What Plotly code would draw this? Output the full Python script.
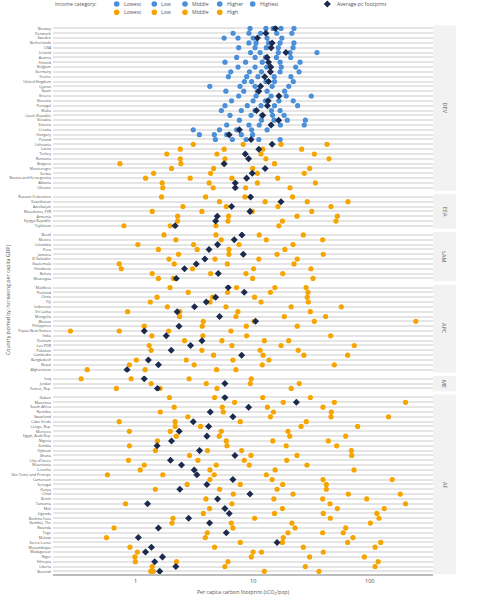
import math
import plotly.graph_objects as go

# ---------------- data (tCO2 per capita) ----------------
blue_labels = ["Lowest", "Low", "Middle", "Higher", "Highest"]
orange_labels = ["Lowest", "Low", "Middle", "High"]

dev_countries = ["Norway", "Denmark", "Sweden", "Netherlands", "USA", "Ireland", "Austria", "Finland",
                 "Belgium", "Germany", "France", "United Kingdom", "Cyprus", "Spain", "Greece", "Slovenia",
                 "Portugal", "Malta", "Czech Republic", "Slovakia", "Estonia", "Croatia", "Hungary", "Poland",
                 "Lithuania", "Latvia", "Turkey", "Romania", "Bulgaria", "Montenegro", "Serbia",
                 "Bosnia and Herzegovina", "Albania", "Ukraine"]
dev_avg = [15.7, 13.0, 11.0, 14.7, 14.4, 19.3, 13.3, 13.7, 14.3, 14.2, 12.7, 13.7, 11.7, 11.3, 16.8, 13.6,
           13.4, 10.8, 12.2, 16.7, 14.4, 7.7, 6.3, 9.7,
           14.7, 11.3, 8.65, 9.24, 5.7, 12.8, 9.93, 8.89, 7.1, 7.1]
dev_blue = [[9.5, 13.0, 15.0, 17.5, 22.6], [6.8, 9.3, 11.7, 16.1, 21.7], [5.7, 7.5, 10.1, 13.3, 17.8],
            [9.3, 10.7, 13.7, 17.2, 22.6], [7.6, 10.5, 13.1, 16.6, 22.2], [9.6, 11.6, 16.6, 20.9, 35.6],
            [7.3, 10.5, 12.9, 16.0, 21.2], [5.8, 8.7, 12.1, 17.2, 25.5], [7.5, 10.5, 13.2, 17.6, 23.4],
            [6.5, 9.4, 11.9, 17.2, 25.0], [6.2, 8.9, 11.1, 15.3, 21.3], [8.5, 9.8, 13.0, 15.4, 22.3],
            [4.3, 7.8, 10.5, 14.7, 20.4], [5.9, 8.4, 11.0, 13.3, 18.8], [7.6, 10.7, 14.4, 19.4, 31.8],
            [6.6, 10.1, 12.9, 16.8, 22.3], [5.8, 9.0, 11.8, 15.4, 24.3], [5.4, 8.0, 10.5, 14.5, 17.2],
            [6.4, 9.7, 12.0, 14.8, 18.6], [7.7, 11.9, 15.3, 19.8, 28.3], [6.0, 9.3, 11.4, 17.3, 27.7],
            [3.1, 5.2, 7.3, 9.8, 13.3], [3.5, 4.7, 6.0, 8.0, 10.0], [4.8, 6.7, 8.8, 11.3, 17.2]]
dev_orange = [[3.1, 8.3, 17.5, 43.4], [2.4, 5.7, 12.2, 26.3], [1.84, 4.95, 11.8, 33.8], [2.4, 5.8, 13.0, 45.1],
              [0.73, 2.43, 5.7, 15.4], [2.02, 4.63, 10.0, 30.8], [1.42, 4.37, 11.0, 27.7],
              [1.21, 2.92, 6.65, 16.4], [1.68, 4.25, 11.0, 34.5], [1.70, 4.60, 8.71, 20.9]]

eea_countries = ["Russian Federation", "Kazakhstan", "Azerbaijan", "Macedonia, FYR", "Armenia",
                 "Kyrgyz Republic", "Tajikistan"]
eea_avg = [9.6, 17.5, 6.6, 9.5, 4.98, 4.82, 2.17]
eea_orange = [[1.66, 3.96, 8.6, 22.0], [5.2, 12.8, 29.4, 65.6], [2.53, 5.95, 16.5, 46.9],
              [1.38, 3.68, 9.93, 32.1], [2.28, 6.23, 24.0, 53.2], [2.28, 6.15, 18.0, 51.8],
              [0.79, 1.97, 4.85, 16.8]]

lam_countries = ["Brazil", "Mexico", "Colombia", "Peru", "Jamaica", "El Salvador", "Guatemala", "Honduras",
                 "Bolivia", "Nicaragua"]
lam_avg = [8.1, 6.96, 5.01, 4.23, 8.32, 3.90, 3.29, 2.61, 5.08, 2.22]
lam_orange = [[1.74, 4.85, 11.4, 27.2], [2.2, 5.39, 13.1, 39.8], [1.04, 3.12, 7.64, 22.2],
              [1.56, 3.35, 6.27, 18.9], [2.32, 6.27, 16.2, 40.3], [1.92, 4.76, 11.3, 24.1],
              [0.72, 2.13, 6.07, 22.6], [0.75, 3.06, 10.2, 31.6], [1.38, 4.37, 8.77, 18.1],
              [1.56, 2.1, 10.0, 32.9]]

apc_countries = ["Maldives", "Thailand", "China", "Fiji", "Indonesia", "Sri Lanka", "Mongolia", "Bhutan",
                 "Philippines", "Papua New Guinea", "India", "Vietnam", "Lao PDR", "Pakistan", "Cambodia",
                 "Bangladesh", "Nepal", "Afghanistan"]
apc_avg = [6.18, 8.48, 4.82, 4.01, 3.18, 2.26, 5.21, 10.6, 2.34, 1.18, 1.82, 3.68, 2.94, 2.01, 8.05, 1.28,
           1.56, 0.84]
apc_orange = [[1.96, 7.29, 15.5, 28.7], [2.81, 6.11, 14.2, 29.8], [1.52, 4.54, 10.4, 29.4],
              [1.33, 4.31, 11.8, 30.0], [1.86, 5.91, 21.4, 57.5], [0.85, 2.38, 7.48, 31.2],
              [2.37, 7.20, 18.7, 42.2], [3.78, 10.3, 33.8, 250], [1.18, 3.70, 8.82, 24.1],
              [0.275, 0.72, 1.91, 6.52], [1.37, 3.75, 8.89, 46.6], [2.61, 5.46, 12.6, 20.4],
              [1.30, 6.65, 17.5, 74.3], [1.35, 3.68, 11.6, 24.6], [4.63, 12.3, 27.5, 65.2],
              [1.01, 2.70, 6.78, 13.8], [0.88, 3.16, 12.1, 50.1], [0.383, 1.20, 4.91, 7.20]]

me_countries = ["Iraq", "Jordan", "Yemen, Rep."]
me_avg = [1.18, 5.79, 1.53]
me_orange = [[0.34, 0.91, 2.86, 9.74], [1.35, 4.01, 9.55, 25.1], [0.68, 1.61, 4.95, 21.4]]

af_countries = ["Gabon", "Mauritius", "South Africa", "Namibia", "Swaziland", "Cabo Verde", "Congo, Rep.",
                "Morocco", "Egypt, Arab Rep.", "Nigeria", "Zambia", "Djibouti", "Ghana", "Côte d'Ivoire",
                "Mauritania", "Lesotho", "São Tomé and Principe", "Cameroon", "Senegal", "Kenya", "Chad",
                "Benin", "Tanzania", "Mali", "Uganda", "Burkina Faso", "Gambia, The", "Rwanda", "Togo",
                "Malawi", "Sierra Leone", "Mozambique", "Madagascar", "Niger", "Ethiopia", "Liberia",
                "Burundi"]
af_avg = [5.79, 23.7, 9.24, 4.34, 6.78, 3.10, 4.20, 2.35, 4.06, 2.02, 1.52, 3.51, 7.06, 1.98, 2.46, 3.16,
          3.33, 6.78, 4.06, 2.38, 9.49, 5.01, 1.26, 5.79, 6.31, 2.83, 4.28, 1.56, 5.95, 1.05, 16.2, 1.36,
          1.21, 1.69, 1.45, 2.20, 1.60]
af_orange = [[1.94, 4.72, 12.2, 31.2], [7.01, 18.3, 50.1, 204], [2.13, 5.50, 13.4, 40.1],
             [1.62, 5.61, 15.1, 47.2], [2.79, 14.2, 46.9, 146], [0.72, 2.17, 7.84, 28.8],
             [2.17, 3.58, 26.0, 79.4], [0.88, 1.97, 5.39, 20.1], [2.22, 5.18, 20.8, 62.7],
             [1.53, 5.95, 14.9, 44.5], [0.88, 6.03, 19.4, 52.5], [1.47, 4.11, 8.05, 70.1],
             [2.88, 9.68, 24.0, 70.6], [0.865, 3.40, 8.48, 19.6], [1.18, 4.88, 9.36, 29.2],
             [1.09, 4.31, 15.6, 73.9], [0.57, 1.70, 4.69, 13.1], [4.31, 14.7, 40.1, 157],
             [2.75, 7.84, 18.1, 42.8], [1.47, 5.21, 16.2, 42.8], [6.83, 22.2, 66.1, 184],
             [3.98, 15.2, 39.8, 94.9], [0.815, 6.65, 46.0, 204], [4.28, 18.0, 53.2, 134],
             [3.78, 15.4, 40.3, 116], [2.08, 10.4, 46.3, 121], [2.04, 6.56, 21.7, 102],
             [0.65, 6.78, 23.1, 62.7], [4.09, 20.1, 39.8, 59.8], [0.56, 3.93, 18.3, 72.4],
             [7.84, 18.0, 65.2, 125], [0.89, 4.72, 27.2, 112], [1.03, 10.1, 11.9, 40.3],
             [0.98, 9.74, 30.8, 90.6], [0.99, 2.23, 6.15, 119], [1.38, 5.79, 28.3, 112],
             [1.34, 1.41, 12.6, 37.0]]

outlier_country = ["Bosnia and Herzegovina"]
outlier_value = [920]

x_ticks = [1, 10, 100]

# ---------------- style ----------------
W, H = 485, 599
FONT = "Open Sans"
BLUE = "#4a8fd7"
ORANGE = "#f6a500"
NAVY = "#1c2a4e"
TXT = "#555555"
XMIN, XMAX = 0.195, 351.0
PX_L, PX_R, STRIP_R = 53, 433, 456
UNIT, GAP, TOP = 4.83, 3.3, 25.5

panels = [
    ("DEV", dev_countries, dev_avg, dev_blue, dev_orange),
    ("EEA", eea_countries, eea_avg, [], eea_orange),
    ("LAM", lam_countries, lam_avg, [], lam_orange),
    ("APC", apc_countries, apc_avg, [], apc_orange),
    ("ME", me_countries, me_avg, [], me_orange),
    ("AF", af_countries, af_avg, [], af_orange),
]

fig = go.Figure()
layout = dict(width=W, height=H, autosize=False, margin=dict(l=0, r=0, t=0, b=0),
              paper_bgcolor="white", plot_bgcolor="white", showlegend=False,
              font=dict(family=FONT, color=TXT))
shapes, annotations = [], []
cursor = TOP
last = len(panels)
for i, (name, ctry, avg, blue, orange) in enumerate(panels, start=1):
    n = len(ctry)
    y_top, y_bot = cursor, cursor + (n + 0.2) * UNIT
    cursor = y_bot + GAP
    s = "" if i == 1 else str(i)
    layout["xaxis" + s] = dict(domain=[PX_L / W, PX_R / W], type="log",
                               range=[math.log10(XMIN), math.log10(XMAX)], anchor="y" + s,
                               showgrid=False, zeroline=False, ticks="",
                               showline=(i == last), linecolor="#bdbdbd", linewidth=2,
                               showticklabels=False)
    layout["yaxis" + s] = dict(domain=[1 - y_bot / H, 1 - y_top / H], type="category",
                               categoryorder="array", categoryarray=ctry, range=[n - 0.4, -0.6],
                               anchor="x" + s, showgrid=True, gridcolor="#e5e5e5", gridwidth=1.7,
                               zeroline=False, showline=False, ticks="", tickmode="array",
                               tickvals=ctry, ticktext=ctry, ticklabelstandoff=1,
                               tickfont=dict(size=3.7, color=TXT))
    nb = len(blue)
    for k, lab in enumerate(blue_labels):
        if nb:
            fig.add_trace(go.Scatter(x=[r[k] for r in blue], y=ctry[:nb], mode="markers", name=lab,
                                     marker=dict(color=BLUE, size=5.2, line=dict(width=0)),
                                     xaxis="x" + s, yaxis="y" + s))
    for k, lab in enumerate(orange_labels):
        fig.add_trace(go.Scatter(x=[r[k] for r in orange], y=ctry[nb:], mode="markers", name=lab,
                                 marker=dict(color=ORANGE, size=5.2, line=dict(width=0)),
                                 xaxis="x" + s, yaxis="y" + s))
    if name == "DEV":
        fig.add_trace(go.Scatter(x=outlier_value, y=outlier_country, mode="markers", cliponaxis=False,
                                 marker=dict(color=ORANGE, size=5.2, line=dict(width=0)),
                                 xaxis="x" + s, yaxis="y" + s))
    fig.add_trace(go.Scatter(x=avg, y=ctry, mode="markers", name="Average pc footprint",
                             marker=dict(color=NAVY, size=5.4, symbol="diamond", line=dict(width=0)),
                             xaxis="x" + s, yaxis="y" + s))
    # facet strip
    shapes.append(dict(type="rect", xref="paper", yref="paper", x0=PX_R / W, x1=STRIP_R / W,
                       y0=1 - y_bot / H, y1=1 - y_top / H, fillcolor="#f2f2f2", line=dict(width=0),
                       layer="below"))
    annotations.append(dict(xref="paper", yref="paper", x=(PX_R + STRIP_R) / 2 / W,
                            y=1 - (y_top + y_bot) / 2 / H, text=name, showarrow=False, textangle=90,
                            font=dict(size=5.5, color="#666666"), xanchor="center", yanchor="middle"))

# x tick labels placed on the bottom axis scale
bottom_x = "x" + str(last)
for t in x_ticks:
    annotations.append(dict(xref=bottom_x, yref="paper", x=math.log10(t), y=1 - 580.5 / H,
                            text=str(t), showarrow=False, font=dict(size=5.5, color="#444444"),
                            xanchor="center", yanchor="middle"))

# axis titles
annotations.append(dict(xref="paper", yref="paper", x=243 / W, y=1 - 592 / H, showarrow=False,
                        text="Per capita carbon footprint (tCO<sub>2</sub>/pop)",
                        font=dict(size=5.2, color=TXT), xanchor="center", yanchor="middle"))
annotations.append(dict(xref="paper", yref="paper", x=8 / W, y=1 - 300 / H, showarrow=False,
                        text="Country (sorted by increasing per capita GDP)", textangle=-90,
                        font=dict(size=5.2, color=TXT), xanchor="center", yanchor="middle"))

# legend (drawn as layout decoration)
LEG_Y1, LEG_Y2 = 4.0, 12.3
annotations.append(dict(xref="paper", yref="paper", x=53 / W, y=1 - LEG_Y1 / H, showarrow=False,
                        text="Income category:", font=dict(size=5.2, color=TXT),
                        xanchor="left", yanchor="middle"))
leg_x = [116.7, 154.3, 185.0, 219.7, 252.7]


def legend_dot(xp, yp, color):
    shapes.append(dict(type="circle", xref="paper", yref="paper", xsizemode="pixel", ysizemode="pixel",
                       xanchor=xp / W, yanchor=1 - yp / H, x0=-2.8, x1=2.8, y0=-2.8, y1=2.8,
                       fillcolor=color, line=dict(width=0)))


for xp, lab in zip(leg_x, blue_labels):
    legend_dot(xp, LEG_Y1, BLUE)
    annotations.append(dict(xref="paper", yref="paper", x=(xp + 5) / W, y=1 - LEG_Y1 / H,
                            showarrow=False, text=lab, font=dict(size=5.2, color=TXT),
                            xanchor="left", yanchor="middle"))
for xp, lab in zip(leg_x, orange_labels):
    legend_dot(xp, LEG_Y2, ORANGE)
    annotations.append(dict(xref="paper", yref="paper", x=(xp + 5) / W, y=1 - LEG_Y2 / H,
                            showarrow=False, text=lab, font=dict(size=5.2, color=TXT),
                            xanchor="left", yanchor="middle"))
shapes.append(dict(type="path", xref="paper", yref="paper", xsizemode="pixel", ysizemode="pixel",
                   xanchor=327.3 / W, yanchor=1 - LEG_Y1 / H, path="M0,-3.6 L3.6,0 L0,3.6 L-3.6,0 Z",
                   fillcolor=NAVY, line=dict(width=0)))
annotations.append(dict(xref="paper", yref="paper", x=335 / W, y=1 - LEG_Y1 / H, showarrow=False,
                        text="Average pc footprint", font=dict(size=5.2, color=TXT),
                        xanchor="left", yanchor="middle"))

layout["shapes"] = shapes
layout["annotations"] = annotations
fig.update_layout(**layout)
fig.write_html("out.html", config={"displayModeBar": False},
               post_script="document.body.style.margin='0px';")
